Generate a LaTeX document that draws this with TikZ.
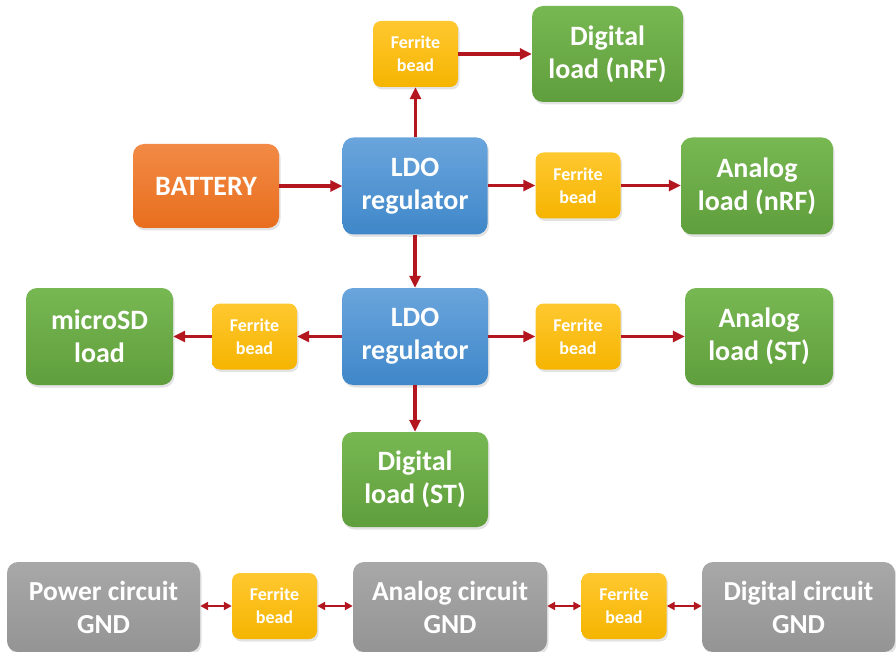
\documentclass[tikz,border=0pt]{standalone}
\usepackage{fontspec}
\setmainfont{Carlito}
\usetikzlibrary{arrows.meta,shadows}
\definecolor{arr}{HTML}{B3161E}
\tikzset{
  x=1pt,y=-1pt,
  box/.style={rounded corners=11pt, draw=none, align=center, text=white,
    font=\bfseries\fontsize{28}{33}\selectfont, inner sep=0pt,
    drop shadow={opacity=0.22,shadow xshift=1.5pt,shadow yshift=-2.5pt}},
  ldo/.style={box, top color=blue1, bottom color=blue2},
  bat/.style={box, top color=or1, bottom color=or2, font=\bfseries\fontsize{28}{33}\selectfont},
  load/.style={box, top color=gr1, bottom color=gr2},
  gnd/.style={box, top color=gy1, bottom color=gy2, font=\bfseries\fontsize{27.5}{33}\selectfont},
  bead/.style={box, rounded corners=8pt, top color=ye1, bottom color=ye2,
    font=\bfseries\fontsize{18}{23}\selectfont, minimum width=85pt, minimum height=66pt},
  flow/.style={draw=arr, line width=3.2pt, -{Triangle[width=11pt,length=12pt]}},
  gflow/.style={draw=arr, line width=2pt, {Triangle[width=8pt,length=8pt]}-{Triangle[width=8pt,length=8pt]}},
}
\definecolor{blue1}{HTML}{6AA5DC}
\definecolor{blue2}{HTML}{3F87C9}
\definecolor{or1}{HTML}{F28A45}
\definecolor{or2}{HTML}{E86E1E}
\definecolor{gr1}{HTML}{78B853}
\definecolor{gr2}{HTML}{5F9E3C}
\definecolor{gy1}{HTML}{A8A8A8}
\definecolor{gy2}{HTML}{949494}
\definecolor{ye1}{HTML}{FFC830}
\definecolor{ye2}{HTML}{F5B400}
\begin{document}
\begin{tikzpicture}
\useasboundingbox (0,0) rectangle (896,652);
% top row
\node[bead] (fb1) at (415.5,54) {Ferrite\\bead};
\node[load, minimum width=151pt, minimum height=96pt] (dnrf) at (607.5,54) {Digital\\load (nRF)};
% second row
\node[bat, minimum width=146pt, minimum height=84pt] (bat) at (206,186) {BATTERY};
\node[ldo, minimum width=145pt, minimum height=97pt] (ldo1) at (415,186) {LDO\\regulator};
\node[bead] (fb2) at (578,185.5) {Ferrite\\bead};
\node[load, minimum width=152pt, minimum height=97pt] (anrf) at (757,186) {Analog\\load (nRF)};
% third row
\node[load, minimum width=147pt, minimum height=97pt] (msd) at (99.5,336.5) {microSD\\load};
\node[bead] (fb3) at (254.5,336.5) {Ferrite\\bead};
\node[ldo, minimum width=146pt, minimum height=97pt] (ldo2) at (415,336.5) {LDO\\regulator};
\node[bead] (fb4) at (578,336.5) {Ferrite\\bead};
\node[load, minimum width=148pt, minimum height=97pt] (ast) at (759,336.5) {Analog\\load (ST)};
% fourth row
\node[load, minimum width=146pt, minimum height=95pt] (dst) at (415,479.5) {Digital\\load (ST)};
% ground row
\node[gnd, minimum width=193pt, minimum height=90pt] (pg) at (103.5,607) {Power circuit\\GND};
\node[bead] (gb1) at (274.5,606) {Ferrite\\bead};
\node[gnd, minimum width=194pt, minimum height=90pt] (ag) at (450,607) {Analog circuit\\GND};
\node[bead] (gb2) at (624,606) {Ferrite\\bead};
\node[gnd, minimum width=193pt, minimum height=90pt] (dg) at (798.5,607) {Digital circuit\\GND};
% connectors
\draw[flow] (bat) -- (ldo1);
\draw[flow] (ldo1.north -| fb1) -- (fb1);
\draw[flow] (fb1) -- (dnrf.west |- fb1);
\draw[flow] (ldo1.east |- fb2) -- (fb2);
\draw[flow] (fb2) -- (anrf.west |- fb2);
\draw[flow] (ldo1) -- (ldo2);
\draw[flow] (ldo2) -- (fb3);
\draw[flow] (fb3) -- (msd);
\draw[flow] (ldo2) -- (fb4);
\draw[flow] (fb4) -- (ast);
\draw[flow] (ldo2) -- (dst);
\draw[gflow] (pg.east |- gb1) -- (gb1);
\draw[gflow] (gb1) -- (ag.west |- gb1);
\draw[gflow] (ag.east |- gb2) -- (gb2);
\draw[gflow] (gb2) -- (dg.west |- gb2);
\end{tikzpicture}
\end{document}
